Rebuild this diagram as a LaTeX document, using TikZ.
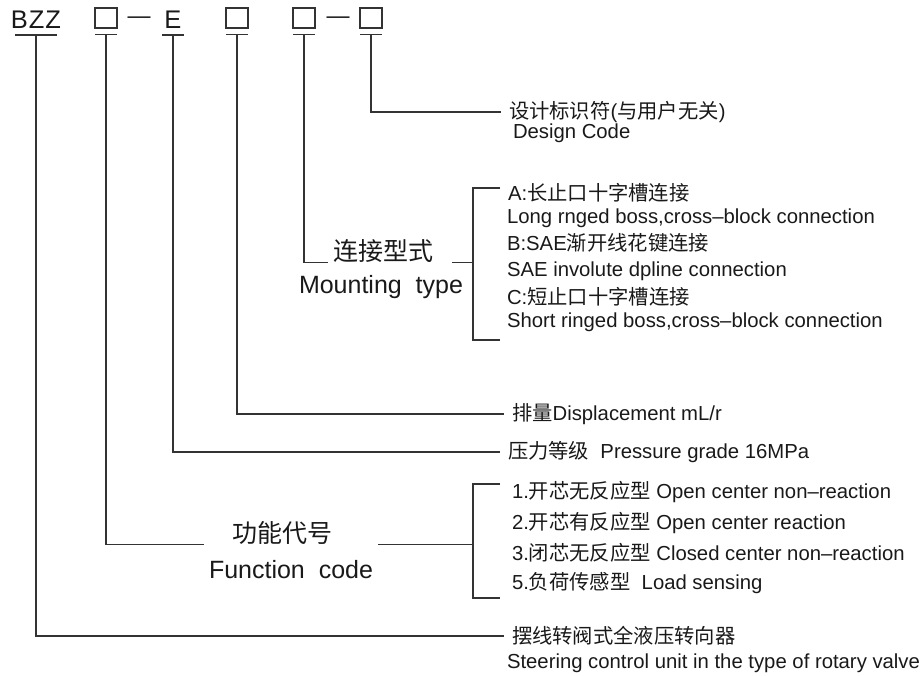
\documentclass[tikz,border=0pt]{standalone}
\usepackage{fontspec}
\setmainfont{Liberation Sans}
\newfontfamily\cjk{Noto Sans CJK SC}
\newcommand{\zh}[1]{{\cjk #1}}
\tikzset{
  lead/.style={line width=1.1pt, color=black!80},
  keybox/.style={draw=black!80, line width=1.1pt, minimum width=22pt, minimum height=20pt, inner sep=0pt},
  code/.style={inner sep=0pt, font=\fontsize{25.5}{30}\selectfont, text=black!90},
  group/.style={inner xsep=5pt, inner ysep=0pt, font=\fontsize{25}{30}\selectfont, text=black!90},
  desc/.style={anchor=west, inner sep=0pt, outer sep=8pt, font=\fontsize{20.3}{24}\selectfont, text=black!90}
}
\begin{document}
\begin{tikzpicture}[x=1pt, y=-1pt]
    \useasboundingbox (0,0) rectangle (923,676);
    % model code
    \node[code] (bzz) at (36,20) {B\kern1pt Z\kern1pt Z};
    \node[keybox] (k1) at (106,18) {};
    \node[code, font=\fontsize{23}{28}\selectfont] (d1) at (139,20.5) {—};
    \node[code] (e) at (173,20) {E};
    \node[keybox] (k2) at (237,18) {};
    \node[keybox] (k3) at (304,18) {};
    \node[code, font=\fontsize{23}{28}\selectfont] (d2) at (338,20.5) {—};
    \node[keybox] (k4) at (371,18) {};
    \foreach \k/\w in {bzz/21, k1/11, e/11, k2/11, k3/11, k4/11} {
        \draw[lead] ([xshift=-\w pt, yshift=-6pt]\k.south) -- ([xshift=\w pt, yshift=-6pt]\k.south);
        \coordinate (\k U) at ([yshift=-6pt]\k.south);
    }
    % descriptions
    \node[desc] (dsnZh) at (501,112) {\zh{设计标识符}(\zh{与用户无关})};
    \node[desc] (dsnEn) at (505,133) {Design Code};
    \node[desc] (mA) at (500,193) {A:\zh{长止口十字槽连接}};
    \node[desc] (mAen) at (499,218) {Long rnged boss,cross–block connection};
    \node[desc] (mB) at (499,243) {B:SAE\zh{渐开线花键连接}};
    \node[desc] (mBen) at (499,271) {SAE involute dpline connection};
    \node[desc] (mC) at (499,297) {C:\zh{短止口十字槽连接}};
    \node[desc] (mCen) at (499,322) {Short ringed boss,cross–block connection};
    \node[desc] (disp) at (504,414) {\zh{排量}Displacement mL/r};
    \node[desc] (pres) at (500,452) {\zh{压力等级}\ \ Pressure grade 16MPa};
    \node[desc] (f1) at (504,492) {1.\zh{开芯无反应型} Open center non–reaction};
    \node[desc] (f2) at (504,523) {2.\zh{开芯有反应型} Open center reaction};
    \node[desc] (f3) at (504,553) {3.\zh{闭芯无反应型} Closed center non–reaction};
    \node[desc] (f5) at (504,583) {5.\zh{负荷传感型}\ \ Load sensing};
    \node[desc] (stZh) at (504,636) {\zh{摆线转阀式全液压转向器}};
    \node[desc] (stEn) at (499,663) {Steering control unit in the type of rotary valve};
    % group labels
    \node[group] (mtZh) at (383,251) {\zh{连接型式}};
    \node[group] (mtEn) at (381,287) {Mounting\ \ type};
    \node[group] (fnZh) at (282,533) {\zh{功能代号}};
    \node[group] (fnEn) at (291,570) {Function\ \ code};
    \coordinate (mtTop) at (473,188);
    \coordinate (mtBot) at (473,340);
    \coordinate (fnTop) at (473,484);
    \coordinate (fnBot) at (473,598);
    % leaders
    \draw[lead] (k4U) |- (dsnZh.west);
    \draw[lead] (k3U) |- (mtZh.south west);
    \draw[lead] ([xshift=14pt]mtZh.south east) -- (mtZh.south -| mtTop);
    \draw[lead] (mtTop -| mA.west) -- (mtTop) -- (mtBot) -- (mtBot -| mA.west);
    \draw[lead] (k2U) |- (disp.west);
    \draw[lead] (eU) |- (pres.west);
    \draw[lead] (k1U) |- (fnEn.west |- fnZh.south);
    \draw[lead] (fnZh.south -| fnEn.east) -- (fnZh.south -| fnTop);
    \draw[lead] (fnTop -| mA.west) -- (fnTop) -- (fnBot) -- (fnBot -| mA.west);
    \draw[lead] (bzzU) |- (stZh.west);
\end{tikzpicture}
\end{document}
